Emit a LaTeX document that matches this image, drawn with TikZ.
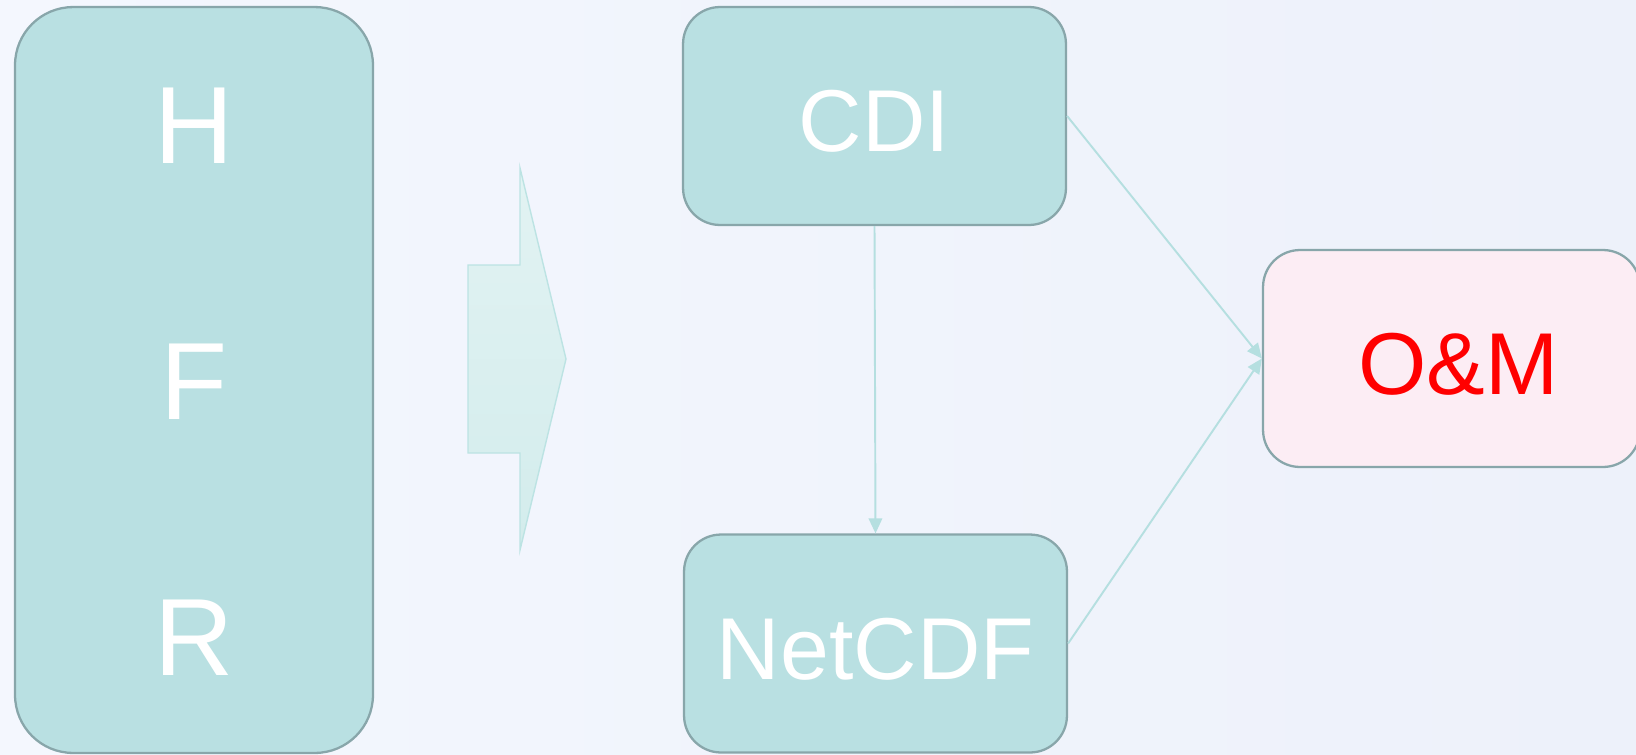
\documentclass[tikz,border=0pt]{standalone}
\usepackage{fontspec}
\setmainfont{Liberation Sans}
\usetikzlibrary{arrows.meta,positioning}

\definecolor{bgLeft}{HTML}{F4F7FE}
\definecolor{bgRight}{HTML}{EDF1FA}
\definecolor{boxFill}{HTML}{B9E0E2}
\definecolor{boxLine}{HTML}{88A6AA}
\definecolor{omFill}{HTML}{FCEDF4}
\definecolor{linkCol}{HTML}{B5DFE0}
\definecolor{bigTop}{HTML}{E2F3F3}
\definecolor{bigBot}{HTML}{D3ECEC}
\definecolor{bigLine}{HTML}{BCE3E3}

\tikzset{
  %% Rounded boxes
  tealBox/.style={draw=boxLine, fill=boxFill, line width=1.3pt,
    rounded corners=0.74cm, minimum width=7.66cm, minimum height=4.36cm,
    text=white, font=\fontsize{50}{58}\selectfont, text height=41pt},
  stackBox/.style={tealBox, rounded corners=1.16cm,
    minimum width=7.16cm, minimum height=14.92cm},
  omBox/.style={tealBox, fill=omFill, text=red,
    minimum width=7.54cm, minimum height=4.34cm},
  %% Letters in the left stack
  stackTxt/.style={text=white, font=\fontsize{62.5}{72}\selectfont, inner sep=0pt},
  %% Connectors
  link/.style={draw=linkCol, line width=1.1pt,
    -{Triangle[length=0.3cm, width=0.27cm]}},
}

\begin{document}
\begin{tikzpicture}[x=0.02cm, y=-0.02cm]
%% Page and background
\useasboundingbox (0,0) rectangle (1636,754);
\shade[left color=bgLeft, right color=bgRight] (0,0) rectangle (1636,754);

%% Left stack H / F / R
\node[stackBox] (stack) at (194,380) {};
\node[stackTxt] (hTxt) at (194,126) {H};
\node[stackTxt] (fTxt) at (194,382) {F};
\node[stackTxt] (rTxt) at (194,638) {R};

%% Big block arrow
\shade[top color=bigTop, bottom color=bigBot, draw=bigLine, line width=0.8pt]
  (468,265) -- (520,265) -- (520,168) -- (566,359) -- (520,550)
  -- (520,453) -- (468,453) -- cycle;

%% Formats and target
\node[tealBox] (cdi) at (874.5,116) {CDI};
\node[tealBox] (netcdf) at (875.5,643.5) {NetCDF};
\node[omBox] (om) at (1451.5,358.5) {\hspace{8pt}O\&M};

%% Links
\draw[link] (cdi.south) -- (netcdf.north);
\draw[link] (cdi.east) -- (om.west);
\draw[link] (netcdf.east) -- (om.west);

\end{tikzpicture}
\end{document}
